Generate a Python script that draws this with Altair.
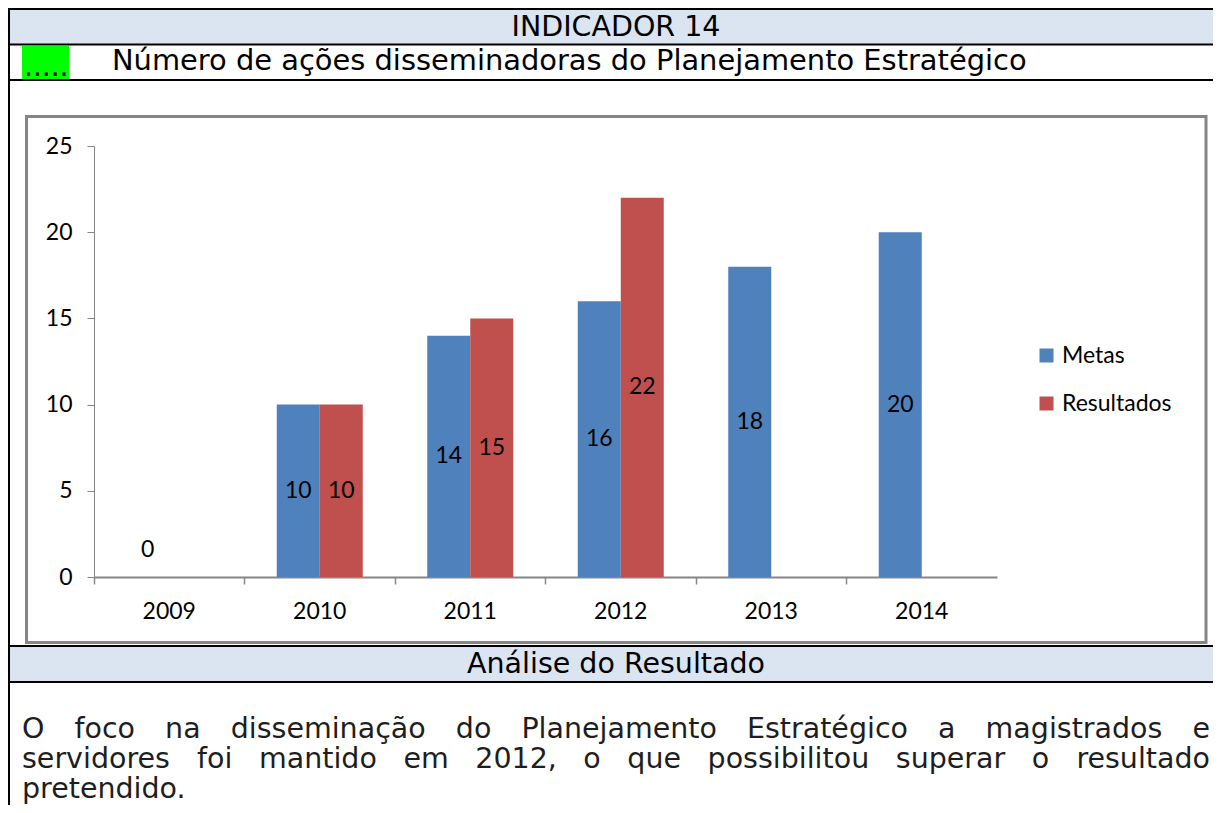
import altair as alt
import pandas as pd

# ---------------- data ----------------
years = ["2009", "2010", "2011", "2012", "2013", "2014"]
metas = [0, 10, 14, 16, 18, 20]
resultados = [None, 10, 15, 22, None, None]
series = ["Metas", "Resultados"]
colors = ["#4F81BD", "#C0504D"]
y_ticks = [0, 5, 10, 15, 20, 25]

header = "INDICADOR 14"
marker = "....."
title = "Número de ações disseminadoras do Planejamento Estratégico"
section = "Análise do Resultado"
paragraph_lines = [
    "O foco na disseminação do Planejamento Estratégico a magistrados e",
    "servidores foi mantido em 2012, o que possibilitou superar o resultado",
    "pretendido.",
]

rows = []
for yr, m, r in zip(years, metas, resultados):
    rows.append({"ano": yr, "serie": "Metas", "valor": m})
    if r is not None:
        rows.append({"ano": yr, "serie": "Resultados", "valor": r})
df = pd.DataFrame(rows)
df_years = pd.DataFrame({"ano": years})

# ---------------- layout ----------------
W, H = 903, 431           # plot area
PL, PT = 86, 138          # plot origin inside the svg
TOTAL_W, TOTAL_H = 1205, 797
DOC_FONT = "DejaVu Sans"
CH_FONT = "Lato"
GRAY = "#868686"
BAND = "#DBE5F1"

one = pd.DataFrame({"k": [0]})


def rect(x1, x2, y1, y2, **kw):
    return alt.Chart(one).mark_rect(**kw).encode(
        x=alt.value(x1), x2=alt.value(x2), y=alt.value(y1), y2=alt.value(y2))


def hline(y, x1, x2, color="black", width=2):
    return alt.Chart(one).mark_rule(color=color, strokeWidth=width).encode(
        x=alt.value(x1), x2=alt.value(x2), y=alt.value(y))


def vline(x, y1, y2, color="black", width=2):
    return alt.Chart(one).mark_rule(color=color, strokeWidth=width).encode(
        x=alt.value(x), y=alt.value(y1), y2=alt.value(y2))


def txt(s, x, y, **kw):
    return alt.Chart(one).mark_text(text=s, **kw).encode(x=alt.value(x), y=alt.value(y))


# approximate DejaVu Sans advance widths (em)
WID = {" ": .318, "a": .613, "b": .635, "c": .550, "d": .635, "e": .615, "f": .352,
       "g": .635, "h": .634, "i": .278, "j": .278, "k": .579, "l": .278, "m": .974,
       "n": .634, "o": .612, "p": .635, "q": .635, "r": .411, "s": .521, "t": .392,
       "u": .634, "v": .592, "x": .592, "y": .592, "z": .525, "ã": .613, "ç": .550,
       "é": .615, "O": .787, "P": .603, "E": .632, ",": .318, ".": .318}
for dgt in "0123456789":
    WID[dgt] = .636


def tw(s, fs):
    return sum(WID.get(c, .6) for c in s) * fs


def para_line(line, y, left, right, fs, justify, **kw):
    words = line.split(" ")
    out = []
    if not justify or len(words) == 1:
        out.append(txt(line, left, y, align="left", **kw))
        return out
    ws = [tw(w, fs) for w in words]
    gap = (right - left - sum(ws)) / (len(words) - 1)
    x = left
    for i, (w, wd) in enumerate(zip(words, ws)):
        if i == len(words) - 1:
            out.append(txt(w, right, y, align="right", **kw))
        else:
            out.append(txt(w, x, y, align="left", **kw))
        x += wd + gap
    return out


decor = [
    rect(-90, 1130, -136, -102, color=BAND),
    rect(-90, 1130, 501, 535, color=BAND),
    rect(-72, -25, -100, -67, color="#00FF00"),
    hline(-137, -90, 1130),
    hline(-101.5, -90, 1130),
    hline(-66, -90, 1130),
    hline(500, -90, 1130),
    hline(536, -90, 1130),
    vline(-85, -138, 660),
    rect(-67.5, 1112, -29.5, 496.5, fillOpacity=0, stroke=GRAY, strokeWidth=3),
    txt(marker, -70, -70, align="left", baseline="alphabetic", font=DOC_FONT, fontSize=28, color="black"),
    txt(header, 522, -110, align="center", baseline="alphabetic", font=DOC_FONT, fontSize=28.5, color="black"),
    txt(title, 18, -76.5, align="left", baseline="alphabetic", font=DOC_FONT, fontSize=28.9, color="black"),
    txt(section, 522, 527, align="center", baseline="alphabetic", font=DOC_FONT, fontSize=28.5, color="black"),
]

para_fs = 28.5
para_y = [592, 622, 652]
for i, line in enumerate(paragraph_lines):
    decor += para_line(line, para_y[i], -72, 1116, para_fs, i < len(paragraph_lines) - 1,
                       baseline="alphabetic", font=DOC_FONT, fontSize=para_fs, color="#1e1e1e")

# ---------------- chart ----------------
x_scale = alt.Scale(domain=years, paddingInner=0, paddingOuter=0)
x_axis = alt.Axis(title=None, labels=False, bandPosition=0, ticks=True, tickSize=7,
                  tickColor=GRAY, tickWidth=1.5, domainColor=GRAY, domainWidth=2, grid=False)
y_scale = alt.Scale(domain=[0, 25], nice=False)
y_axis = alt.Axis(title=None, values=y_ticks, grid=False, ticks=True, tickSize=7, tickColor=GRAY,
                  domainColor=GRAY, domainWidth=1, labelFont=CH_FONT, labelFontSize=23,
                  labelColor="black", labelPadding=15)
xo = alt.XOffset("serie:N", scale=alt.Scale(domain=series, paddingInner=0, paddingOuter=0.75))

bars = alt.Chart(df).mark_bar().encode(
    x=alt.X("ano:N", sort=years, scale=x_scale, axis=x_axis),
    xOffset=xo,
    y=alt.Y("valor:Q", scale=y_scale, axis=y_axis),
    color=alt.Color("serie:N", scale=alt.Scale(domain=series, range=colors),
                    legend=alt.Legend(orient="none", legendX=941, legendY=198, title=None,
                                      symbolType="square", symbolSize=196, symbolStrokeWidth=0,
                                      labelFont=CH_FONT, labelFontSize=23, labelColor="black",
                                      rowPadding=24, padding=0, labelOffset=4,
                                      direction="vertical")),
)

labels = alt.Chart(df).transform_calculate(
    pos="datum.valor == 0 ? 1.55 : datum.valor / 2"
).mark_text(font=CH_FONT, fontSize=23, color="black", baseline="middle").encode(
    x=alt.X("ano:N", sort=years, scale=x_scale, axis=x_axis),
    xOffset=xo,
    y=alt.Y("pos:Q", scale=y_scale, axis=y_axis),
    text=alt.Text("valor:Q"),
)

xlabels = alt.Chart(df_years).mark_text(font=CH_FONT, fontSize=23, color="black",
                                        baseline="middle").encode(
    x=alt.X("ano:N", sort=years, scale=x_scale, axis=x_axis),
    y=alt.value(465.5),
    text="ano:N",
)

chart = alt.layer(*decor, bars, labels, xlabels).properties(
    width=W, height=H,
    background="white",
    autosize=alt.AutoSizeParams(type="none"),
    padding={"left": PL, "top": PT, "right": TOTAL_W - PL - W, "bottom": TOTAL_H - PT - H},
).configure_view(stroke=None)

chart.save("out.html", embed_options={"renderer": "svg", "actions": False})
